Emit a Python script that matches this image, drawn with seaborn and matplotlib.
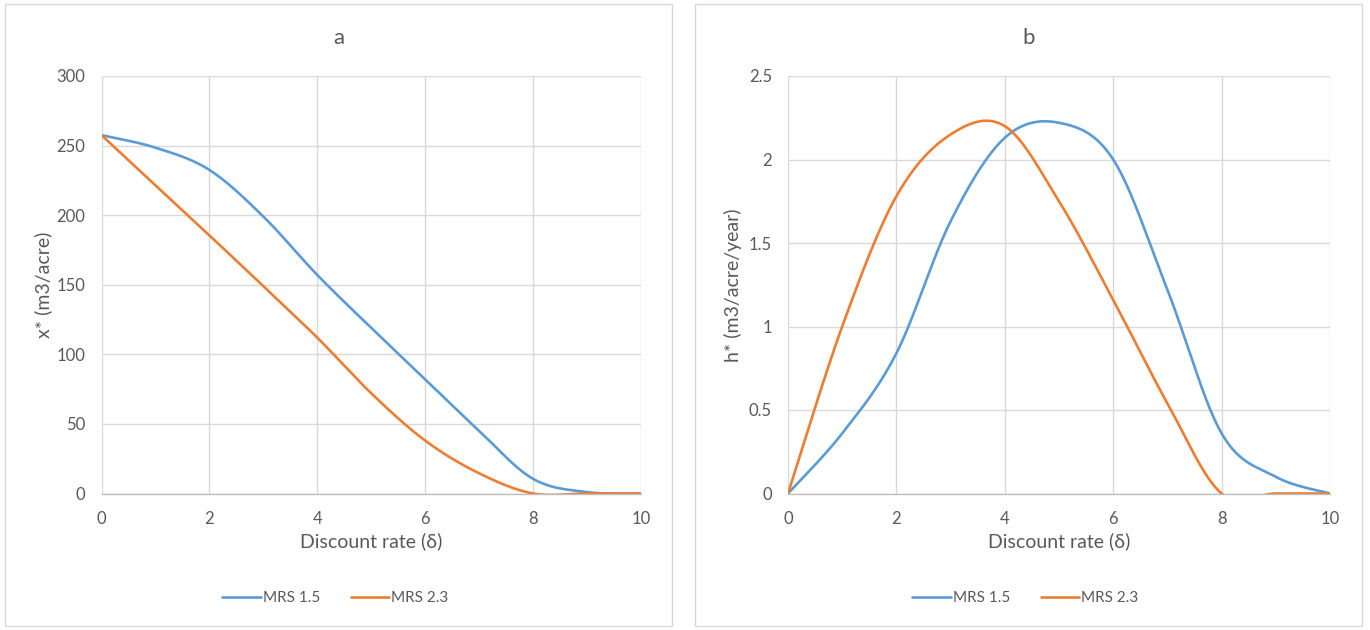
import numpy as np
import pandas as pd
import matplotlib
matplotlib.use("Agg")
import matplotlib.pyplot as plt
from matplotlib.patches import Rectangle
import seaborn as sns

# ---------------- data ----------------
discount_rate = [0, 1, 2, 3, 4, 5, 6, 7, 8, 9, 10]
x_mrs15 = [257.5, 248.5, 232.5, 199, 157, 119, 82, 45, 10.5, 1.0, 0]
x_mrs23 = [257.5, 221.5, 185.5, 149, 112, 72, 38, 14.5, 0, 0, 0]
h_mrs15 = [0, 0.36, 0.84, 1.63, 2.13, 2.22, 2.0, 1.22, 0.36, 0.10, 0]
h_mrs23 = [0, 1.0, 1.78, 2.15, 2.2, 1.75, 1.16, 0.54, 0, 0, 0]
series_names = ["MRS 1.5", "MRS 2.3"]
panel_titles = ["a", "b"]
y_labels = ["x* (m3/acre)", "h* (m3/acre/year)"]
x_label = "Discount rate (δ)"
x_ticks = [0, 2, 4, 6, 8, 10]
y_ticks_a = [0, 50, 100, 150, 200, 250, 300]
y_ticks_b = [0, 0.5, 1, 1.5, 2, 2.5]
y_ticklabels_b = ["0", "0.5", "1", "1.5", "2", "2.5"]


def excel_smooth(xs, ys, n=40):
    pts = np.column_stack([np.asarray(xs, float), np.asarray(ys, float)])
    out = []
    m = len(pts)
    for i in range(m - 1):
        p0 = pts[i - 1] if i > 0 else pts[i]
        p1 = pts[i]
        p2 = pts[i + 1]
        p3 = pts[i + 2] if i + 2 < m else pts[i + 1]
        c1 = p1 + (p2 - p0) / 6.0
        c2 = p2 - (p3 - p1) / 6.0
        t = np.linspace(0, 1, n, endpoint=(i == m - 2))[:, None]
        seg = ((1 - t) ** 3) * p1 + 3 * ((1 - t) ** 2) * t * c1 + 3 * (1 - t) * t ** 2 * c2 + t ** 3 * p2
        out.append(seg)
    out = np.vstack(out)
    return out[:, 0], out[:, 1]


def make_df(ys_list):
    frames = []
    for name, ys in zip(series_names, ys_list):
        sx, sy = excel_smooth(discount_rate, ys)
        frames.append(pd.DataFrame({"x": sx, "y": sy, "series": name}))
    return pd.concat(frames, ignore_index=True)


sns.set_theme(style="white")
plt.rcParams["font.family"] = ["Lato", "DejaVu Sans"]

text_color = "#595959"
grid_color = "#D9D9D9"
palette = {"MRS 1.5": "#5B9BD5", "MRS 2.3": "#ED7D31"}

W, H = 1370, 630
fig = plt.figure(figsize=(W / 100, H / 100), dpi=100)

# panel boxes (pixel coords)
boxes = [(5, 4, 672, 626), (695, 4, 1362, 626)]
axes_px = [(101.5, 76, 641, 493.5), (788, 76, 1330, 493.5)]
ylabel_center_px = [43, 733]

datasets = [make_df([x_mrs15, x_mrs23]), make_df([h_mrs15, h_mrs23])]
ylims = [(0, 300), (0, 2.5)]
yticks = [y_ticks_a, y_ticks_b]
yticklabels = [[str(v) for v in y_ticks_a], y_ticklabels_b]

for k in range(2):
    bx0, by0, bx1, by1 = boxes[k]
    fig.patches.append(Rectangle((bx0 / W, 1 - by1 / H), (bx1 - bx0) / W, (by1 - by0) / H,
                                 transform=fig.transFigure, fill=False,
                                 edgecolor="#D9D9D9", linewidth=1.0))
    ax0, ay0, ax1, ay1 = axes_px[k]
    ax = fig.add_axes([ax0 / W, 1 - ay1 / H, (ax1 - ax0) / W, (ay1 - ay0) / H])
    sns.lineplot(data=datasets[k], x="x", y="y", hue="series",
                 estimator=None, sort=False, palette=palette, linewidth=1.9,
                 ax=ax, legend=False)
    ax.set_xlim(0, 10)
    ax.set_ylim(*ylims[k])
    ax.set_xticks(x_ticks)
    ax.set_xticklabels([str(v) for v in x_ticks])
    ax.set_yticks(yticks[k])
    ax.set_yticklabels(yticklabels[k])
    ax.grid(True, color=grid_color, linewidth=1.0)
    ax.set_axisbelow(True)
    for s in ["top", "right", "left"]:
        ax.spines[s].set_visible(False)
    ax.spines["bottom"].set_color("#BFBFBF")
    ax.spines["bottom"].set_linewidth(1.0)
    ax.tick_params(axis="both", length=0, labelsize=12, colors=text_color)
    ax.tick_params(axis="y", pad=11.5)
    ax.tick_params(axis="x", pad=12.5)
    ax.set_xlabel(x_label, fontsize=14, color=text_color, labelpad=4)
    ax.set_ylabel(y_labels[k], fontsize=14, color=text_color, va="center")
    ax.yaxis.set_label_coords((ylabel_center_px[k] - ax0) / (ax1 - ax0), 0.5)

    cx = (bx0 + bx1) / 2
    fig.text(cx / W, 1 - 38 / H, panel_titles[k], ha="center", va="center",
             fontsize=16, color=text_color)

    handles = [plt.Line2D([], [], color=palette[n], linewidth=1.9) for n in series_names]
    fig.legend(handles, series_names, loc="center", ncol=2,
               bbox_to_anchor=((cx - 3) / W, 1 - 598 / H), frameon=False,
               fontsize=11, labelcolor=text_color, handlelength=2.5,
               columnspacing=2.0, handletextpad=0.15)

fig.savefig("out.png", dpi=100, facecolor="white")
